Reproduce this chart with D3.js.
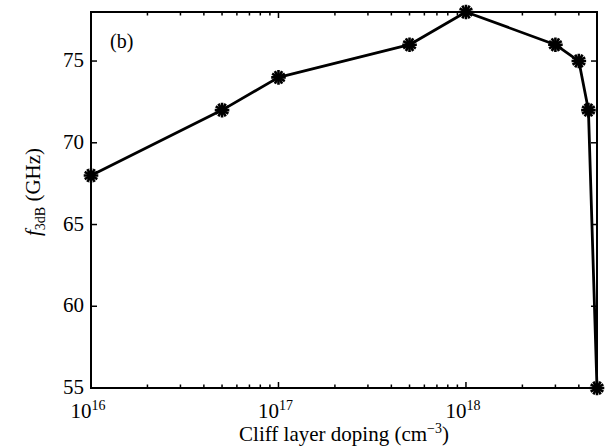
<!DOCTYPE html>
<html>
<head>
<meta charset="utf-8">
<script src="https://cdn.jsdelivr.net/npm/d3@7"></script>
<style>
  body { margin: 0; background: #fff; }
  svg { font-family: "Liberation Serif", "DejaVu Serif", serif; }
</style>
</head>
<body>
<div id="viz"></div>
<script>
// cliff layer doping (cm^-3) and 3 dB bandwidth (GHz)
const doping = [1e16, 5e16, 1e17, 5e17, 1e18, 3e18, 4e18, 4.5e18, 5e18];
const f3dB = [68, 72, 74, 76, 78, 76, 75, 72, 55];
const xMajor = [1e16, 1e17, 1e18];
const yTicks = [55, 60, 65, 70, 75];

const width = 612, height = 446;
const margin = {top: 12, right: 15, bottom: 58, left: 91};

const svg = d3.select("#viz")
  .append("svg")
  .attr("width", width)
  .attr("height", height);

const x = d3.scaleLog()
  .domain([1e16, 5e18])
  .range([margin.left, width - margin.right]);

const y = d3.scaleLinear()
  .domain([55, 78])
  .range([height - margin.bottom, margin.top]);

const x0 = x.range()[0], x1 = x.range()[1];
const y0 = y.range()[0], y1 = y.range()[1];

// minor ticks on log axis
const xMinor = x.ticks().filter(d => !xMajor.includes(d));

const ticks = svg.append("g").attr("stroke", "#000").attr("stroke-width", 1.5);

// bottom + top ticks (inward)
xMajor.forEach(d => {
  ticks.append("line").attr("x1", x(d)).attr("x2", x(d)).attr("y1", y0).attr("y2", y0 - 6);
  ticks.append("line").attr("x1", x(d)).attr("x2", x(d)).attr("y1", y1).attr("y2", y1 + 6);
});
xMinor.forEach(d => {
  ticks.append("line").attr("x1", x(d)).attr("x2", x(d)).attr("y1", y0).attr("y2", y0 - 3.5);
  ticks.append("line").attr("x1", x(d)).attr("x2", x(d)).attr("y1", y1).attr("y2", y1 + 3.5);
});
// left + right ticks
yTicks.forEach(d => {
  ticks.append("line").attr("x1", x0).attr("x2", x0 + 6).attr("y1", y(d)).attr("y2", y(d));
  ticks.append("line").attr("x1", x1).attr("x2", x1 - 6).attr("y1", y(d)).attr("y2", y(d));
});

// frame
svg.append("rect")
  .attr("x", x0).attr("y", y1)
  .attr("width", x1 - x0).attr("height", y0 - y1)
  .attr("fill", "none")
  .attr("stroke", "#000")
  .attr("stroke-width", 2);

// y tick labels
svg.append("g")
  .selectAll("text")
  .data(yTicks)
  .join("text")
  .attr("x", x0 - 7)
  .attr("y", d => y(d) + 6)
  .attr("text-anchor", "end")
  .style("font-size", "21px")
  .text(d => d);

// x tick labels 10^n
const xl = svg.append("g")
  .selectAll("text")
  .data(xMajor)
  .join("text")
  .attr("x", d => x(d) - 3)
  .attr("y", y0 + 30)
  .attr("text-anchor", "middle")
  .style("font-size", "21px");
xl.append("tspan").text("10");
xl.append("tspan")
  .attr("dy", -8)
  .style("font-size", "14px")
  .text(d => Math.round(Math.log10(d)));

// line
svg.append("path")
  .datum(doping.map((d, i) => [d, f3dB[i]]))
  .attr("fill", "none")
  .attr("stroke", "#000")
  .attr("stroke-width", 2.8)
  .attr("stroke-linejoin", "round")
  .attr("d", d3.line().x(d => x(d[0])).y(d => y(d[1])));

// asterisk markers
const sym = d3.symbol().type(d3.symbolAsterisk).size(150);
const pts = doping.map((d, i) => [d, f3dB[i]]);
[0, 90].forEach(rot => {
  svg.append("g")
    .selectAll("path")
    .data(pts)
    .join("path")
    .attr("transform", d => `translate(${x(d[0])},${y(d[1])}) rotate(${rot})`)
    .attr("d", sym)
    .attr("fill", "none")
    .attr("stroke", "#000")
    .attr("stroke-width", 2.6);
});

// panel tag
svg.append("text")
  .attr("x", 110)
  .attr("y", 48)
  .style("font-size", "20px")
  .text("(b)");

// x axis title
const xt = svg.append("text")
  .attr("x", (x0 + x1) / 2)
  .attr("y", 441)
  .attr("text-anchor", "middle")
  .style("font-size", "21px");
xt.append("tspan").text("Cliff layer doping (cm");
xt.append("tspan").attr("dy", -8).style("font-size", "14px").text("\u22123");
xt.append("tspan").attr("dy", 8).text(")");

// y axis title
const yt = svg.append("text")
  .attr("transform", `translate(40,192) rotate(-90)`)
  .attr("text-anchor", "middle")
  .style("font-size", "21px");
yt.append("tspan").style("font-style", "italic").text("f");
yt.append("tspan").attr("dy", 5).style("font-size", "14px").text("3dB");
yt.append("tspan").attr("dy", -5).text(" (GHz)");
</script>
</body>
</html>
